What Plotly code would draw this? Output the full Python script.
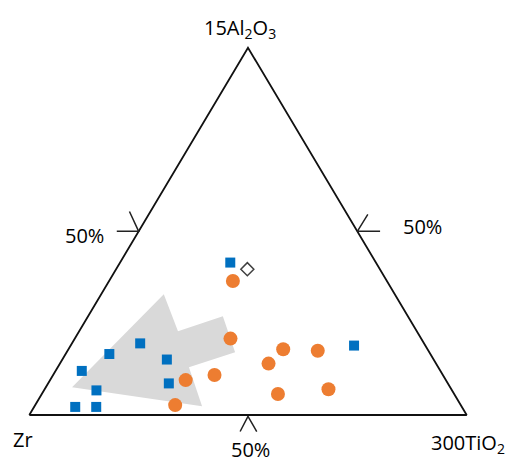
import plotly.graph_objects as go

# Ternary compositions (fractions of 15Al2O3, Zr, 300TiO2)
blue_al = [0.120, 0.166, 0.195, 0.151, 0.067, 0.086, 0.022, 0.022, 0.415, 0.189]
blue_zr = [0.820, 0.734, 0.649, 0.610, 0.813, 0.638, 0.884, 0.836, 0.333, 0.163]
blue_ti = [0.060, 0.100, 0.156, 0.239, 0.120, 0.276, 0.094, 0.142, 0.252, 0.648]

orange_al = [0.365, 0.208, 0.179, 0.175, 0.140, 0.109, 0.057, 0.070, 0.095, 0.027]
orange_zr = [0.352, 0.436, 0.330, 0.253, 0.383, 0.522, 0.403, 0.281, 0.595, 0.653]
orange_ti = [0.283, 0.356, 0.491, 0.572, 0.477, 0.369, 0.540, 0.649, 0.310, 0.320]

diamond_al = [0.397]
diamond_zr = [0.303]
diamond_ti = [0.300]

# Grey trend arrow outline (compositions)
arrow_al = [0.0755, 0.329, 0.228, 0.269, 0.171, 0.130, 0.024, 0.0755]
arrow_zr = [0.8645, 0.528, 0.546, 0.423, 0.444, 0.570, 0.593, 0.8645]
arrow_ti = [0.060, 0.143, 0.226, 0.308, 0.385, 0.300, 0.383, 0.060]

# Triangle corners
tri_al = [0, 0, 1, 0]
tri_zr = [1, 0, 0, 1]
tri_ti = [0, 1, 0, 0]


def to_xy(al, zr, ti):
    xs, ys = [], []
    for a, b, c in zip(al, zr, ti):
        s = a + b + c
        a, c = a / s, c / s
        xs.append(c + a / 2.0)
        ys.append(a)
    return xs, ys


fig = go.Figure()

ax, ay = to_xy(arrow_al, arrow_zr, arrow_ti)
fig.add_trace(go.Scatter(x=ax, y=ay, mode="lines", fill="toself",
                         fillcolor="#D9D9D9", line=dict(width=0),
                         hoverinfo="skip", showlegend=False))

tx, ty = to_xy(tri_al, tri_zr, tri_ti)
fig.add_trace(go.Scatter(x=tx, y=ty, mode="lines",
                         line=dict(color="#111111", width=1.8),
                         hoverinfo="skip", showlegend=False))

# 50% tick chevrons on each edge
mid_pts = [(0.5, 0.5, 0.0), (0.5, 0.0, 0.5), (0.0, 0.5, 0.5)]
chev_shapes = [
    [(-0.050, 0.0), (0.0, 0.0), (-0.021, 0.054)],
    [(0.052, 0.0), (0.0, 0.0), (0.024, 0.046)],
    [(-0.018, -0.045), (0.0, -0.004), (0.020, -0.045)],
]
for (a, b, c), shp in zip(mid_pts, chev_shapes):
    (mx,), (my,) = to_xy([a], [b], [c])
    fig.add_trace(go.Scatter(x=[mx + dx for dx, dy in shp],
                             y=[my + dy for dx, dy in shp],
                             mode="lines", line=dict(color="#222222", width=1.5),
                             hoverinfo="skip", showlegend=False))

bx, by = to_xy(blue_al, blue_zr, blue_ti)
fig.add_trace(go.Scatter(x=bx, y=by, mode="markers",
                         marker=dict(symbol="square", size=10, color="#0070C0",
                                     line=dict(width=0)),
                         showlegend=False))

ox, oy = to_xy(orange_al, orange_zr, orange_ti)
fig.add_trace(go.Scatter(x=ox, y=oy, mode="markers",
                         marker=dict(symbol="circle", size=14, color="#ED7D31",
                                     line=dict(width=0)),
                         showlegend=False))

dx_, dy_ = to_xy(diamond_al, diamond_zr, diamond_ti)
fig.add_trace(go.Scatter(x=dx_, y=dy_, mode="markers",
                         marker=dict(symbol="diamond", size=10, color="white",
                                     line=dict(width=1.5, color="#404040")),
                         showlegend=False))

font = dict(family="Open Sans, Noto Sans, sans-serif", size=20, color="black")
labels = [
    ("15Al<sub>2</sub>O<sub>3</sub>", 0.4817, 1.052),
    ("Zr", -0.0137, -0.066),
    ("300TiO<sub>2</sub>", 1.003, -0.078),
    ("50%", 0.1267, 0.490),
    ("50%", 0.900, 0.512),
    ("50%", 0.5067, -0.093),
]
for txt, x, y in labels:
    fig.add_annotation(x=x, y=y, xref="x", yref="y", text=txt, showarrow=False,
                       xanchor="center", yanchor="middle", font=font)

fig.update_layout(
    width=513, height=463,
    margin=dict(l=0, r=0, t=0, b=0),
    paper_bgcolor="white", plot_bgcolor="white",
    xaxis=dict(range=[-0.0670, 1.1059], visible=False, fixedrange=True),
    yaxis=dict(range=[-0.1307, 1.1299], visible=False, fixedrange=True),
    showlegend=False,
)

fig.write_html("out.html")
